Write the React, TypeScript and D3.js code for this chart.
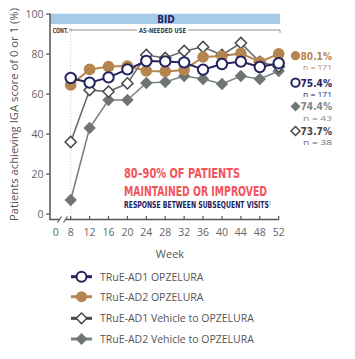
import React from "react";
import * as d3 from "d3";

const weeks = [8, 12, 16, 20, 24, 28, 32, 36, 40, 44, 48, 52];
const xTicks = [0, 8, 12, 16, 20, 24, 28, 32, 36, 40, 44, 48, 52];
const yTicks = [0, 20, 40, 60, 80, 100];

const ad1Opz = [68, 65.7, 68.3, 72.3, 76.5, 76.3, 75.8, 72.2, 75, 76.2, 73.5, 75.4];
const ad2Opz = [64.5, 72.3, 73.7, 74, 71.5, 71.3, 72, 78.5, 79, 80.3, 76, 80.1];
const ad1Veh = [36, 62, 61.2, 65.3, 79.5, 78, 81.5, 83.5, 79.5, 85.5, 76, 73.7];
const ad2Veh = [7, 43, 57, 57, 65.5, 66, 69, 67.5, 65, 69, 67.5, 71.5];

const legendLabels = [
  "TRuE-AD1 OPZELURA",
  "TRuE-AD2 OPZELURA",
  "TRuE-AD1 Vehicle to OPZELURA",
  "TRuE-AD2 Vehicle to OPZELURA",
];
const finalPct = ["80.1%", "75.4%", "74.4%", "73.7%"];
const finalN = ["n = 171", "n = 171", "n = 43", "n = 38"];

const NAVY = "#24235f";
const ORANGE = "#b5854f";
const GRAYF = "#6f7475";
const GRAYD = "#4a4a4a";
const COND = "'Liberation Sans Narrow', 'DejaVu Sans Condensed', sans-serif";
const SANS = "'Open Sans', 'Noto Sans', sans-serif";

export default function App() {
  const x = d3.scaleLinear().domain([0, 8, 52]).range([55.7, 70.7, 278.7]);
  const y = d3.scaleLinear().domain([0, 100]).range([214, 14]);
  const line = d3
    .line<number>()
    .x((_, i) => x(weeks[i]))
    .y((d) => y(d));

  const diamond = (cx: number, cy: number, r: number) =>
    `M${cx},${cy - r}L${cx + r},${cy}L${cx},${cy + r}L${cx - r},${cy}Z`;

  const series = [
    { data: ad2Veh, color: "#7d8283", lw: 1.6, kind: "fdia" },
    { data: ad1Veh, color: "#6a6a6a", lw: 1.6, kind: "odia" },
    { data: ad2Opz, color: ORANGE, lw: 2, kind: "fcirc" },
    { data: ad1Opz, color: NAVY, lw: 2, kind: "ocirc" },
  ];

  const marker = (kind: string, cx: number, cy: number, key: any, s = 1) => {
    if (kind === "fdia")
      return <path key={key} d={diamond(cx, cy, 6.2 * s)} fill={GRAYF} />;
    if (kind === "odia")
      return (
        <path key={key} d={diamond(cx, cy, 5.6 * s)} fill="#fff" stroke={GRAYD} strokeWidth={1.5} />
      );
    if (kind === "fcirc")
      return <circle key={key} cx={cx} cy={cy} r={5.8 * s} fill={ORANGE} />;
    return (
      <circle key={key} cx={cx} cy={cy} r={5.2 * s} fill="#fff" stroke={NAVY} strokeWidth={2} />
    );
  };

  const legendOrder = [
    { kind: "ocirc", color: NAVY },
    { kind: "fcirc", color: ORANGE },
    { kind: "odia", color: GRAYD },
    { kind: "fdia", color: "#7d8283" },
  ];
  const legendY = [276.7, 296.7, 318.3, 339];

  const rightLabels = [
    { kind: "fcirc", color: ORANGE, nColor: ORANGE, y: 55.7 },
    { kind: "ocirc", color: NAVY, nColor: NAVY, y: 82.7 },
    { kind: "fdia", color: "#808586", nColor: "#8a8a8a", y: 106.5 },
    { kind: "odia", color: "#444", nColor: "#666", y: 131 },
  ];

  return (
    <svg
      width={355}
      height={359}
      style={{ position: "absolute", left: 0, top: 0, background: "#fff" }}
      fontFamily={SANS}
    >
      {/* BID band */}
      <rect x={50} y={13.7} width={230} height={10.3} fill="#a6cbe8" />
      <text x={166} y={22.8} textAnchor="middle" fontFamily={COND} fontWeight="bold" fontSize={10} fill={NAVY}>
        BID
      </text>
      {/* CONT / AS-NEEDED */}
      <text x={52.7} y={32.5} fontFamily={COND} fontWeight="bold" fontSize={7} fill="#444" textLength={15.5} lengthAdjust="spacingAndGlyphs">
        CONT.
      </text>
      <line x1={70.7} y1={30} x2={137} y2={30} stroke="#777" strokeWidth={0.8} />
      <line x1={188} y1={30} x2={280} y2={30} stroke="#777" strokeWidth={0.8} />
      <line x1={280} y1={30} x2={280} y2={33} stroke="#777" strokeWidth={0.8} />
      <circle cx={70.7} cy={30} r={1.2} fill="#fff" stroke="#777" strokeWidth={0.7} />
      <text x={162.5} y={32.5} textAnchor="middle" fontFamily={COND} fontWeight="bold" fontSize={7} fill="#444" textLength={47} lengthAdjust="spacingAndGlyphs">
        AS-NEEDED USE
      </text>
      {/* dotted reference line at week 8 */}
      <line x1={x(8)} y1={32} x2={x(8)} y2={219} stroke="#c8c8c8" strokeWidth={0.8} strokeDasharray="1.5,1.5" />

      {/* y axis */}
      <line x1={50} y1={13.5} x2={50} y2={219.5} stroke="#555" strokeWidth={1.5} />
      {yTicks.map((t) => (
        <g key={t}>
          <line x1={46} y1={y(t)} x2={50} y2={y(t)} stroke="#555" strokeWidth={1.2} />
          <text x={43.5} y={y(t) + 3.8} textAnchor="end" fontSize={10.5} fill="#666">
            {t}
          </text>
        </g>
      ))}
      <text
        transform={`translate(17.5,114.5) rotate(-90)`}
        textAnchor="middle"
        fontSize={10.5}
        fill="#555"
        textLength={213}
        lengthAdjust="spacingAndGlyphs"
      >
        Patients achieving IGA score of 0 or 1 (%)
      </text>

      {/* x axis */}
      <line x1={49.3} y1={219.5} x2={279} y2={219.5} stroke="#555" strokeWidth={1.5} />
      <rect x={59.5} y={217} width={6} height={5} fill="#fff" />
      <line x1={57.5} y1={222.5} x2={61.5} y2={216.5} stroke="#555" strokeWidth={1.1} />
      <line x1={63.5} y1={222.5} x2={67.5} y2={216.5} stroke="#555" strokeWidth={1.1} />
      {xTicks.map((t) => (
        <g key={t}>
          {t > 0 && <line x1={x(t)} y1={216} x2={x(t)} y2={219.5} stroke="#555" strokeWidth={1.2} />}
          <text x={x(t)} y={236} textAnchor="middle" fontSize={10.5} fill="#666">
            {t}
          </text>
        </g>
      ))}
      <text x={170} y={258} textAnchor="middle" fontSize={11} fill="#555">
        Week
      </text>

      {/* series */}
      {series.map((s, si) => (
        <g key={si}>
          <path d={line(s.data) || ""} fill="none" stroke={s.color} strokeWidth={s.lw} />
        </g>
      ))}
      {series.map((s, si) => (
        <g key={"m" + si}>{s.data.map((v, i) => marker(s.kind, x(weeks[i]), y(v), i))}</g>
      ))}

      {/* annotation */}
      <text x={124} y={178} fontFamily={COND} fontWeight="bold" fontSize={13.5} fill="#f2545b" textLength={116} lengthAdjust="spacingAndGlyphs">
        80–90% OF PATIENTS
      </text>
      <text x={124} y={196} fontFamily={COND} fontWeight="bold" fontSize={13.5} fill="#f2545b" textLength={143} lengthAdjust="spacingAndGlyphs">
        MAINTAINED OR IMPROVED
      </text>
      <text x={124} y={208} fontFamily={COND} fontWeight="bold" fontSize={8.5} fill={NAVY} textLength={147} lengthAdjust="spacingAndGlyphs">
        RESPONSE BETWEEN SUBSEQUENT VISITS
        <tspan fontSize={4.5} fontWeight="normal" dy={-3.2}>7</tspan>
      </text>

      {/* right end labels */}
      {rightLabels.map((r, i) => (
        <g key={i}>
          {marker(r.kind, 295.5, r.y, "rl" + i, 0.8)}
          <text x={300.5} y={r.y + 3.8} fontFamily={COND} fontWeight="bold" fontSize={11} fill={r.color} textLength={31.5} lengthAdjust="spacingAndGlyphs">
            {finalPct[i]}
          </text>
          <text x={303} y={r.y + 14.3} fontSize={7.5} fill={r.nColor} textLength={29} lengthAdjust="spacingAndGlyphs">
            {finalN[i]}
          </text>
        </g>
      ))}

      {/* legend */}
      {legendOrder.map((l, i) => (
        <g key={i}>
          <line x1={71} y1={legendY[i]} x2={92} y2={legendY[i]} stroke={l.color} strokeWidth={3} />
          {marker(l.kind, 81.5, legendY[i], "lg" + i, 0.95)}
          <text x={100} y={legendY[i] + 3.8} fontSize={10.5} fill="#555">
            {legendLabels[i]}
          </text>
        </g>
      ))}
    </svg>
  );
}
